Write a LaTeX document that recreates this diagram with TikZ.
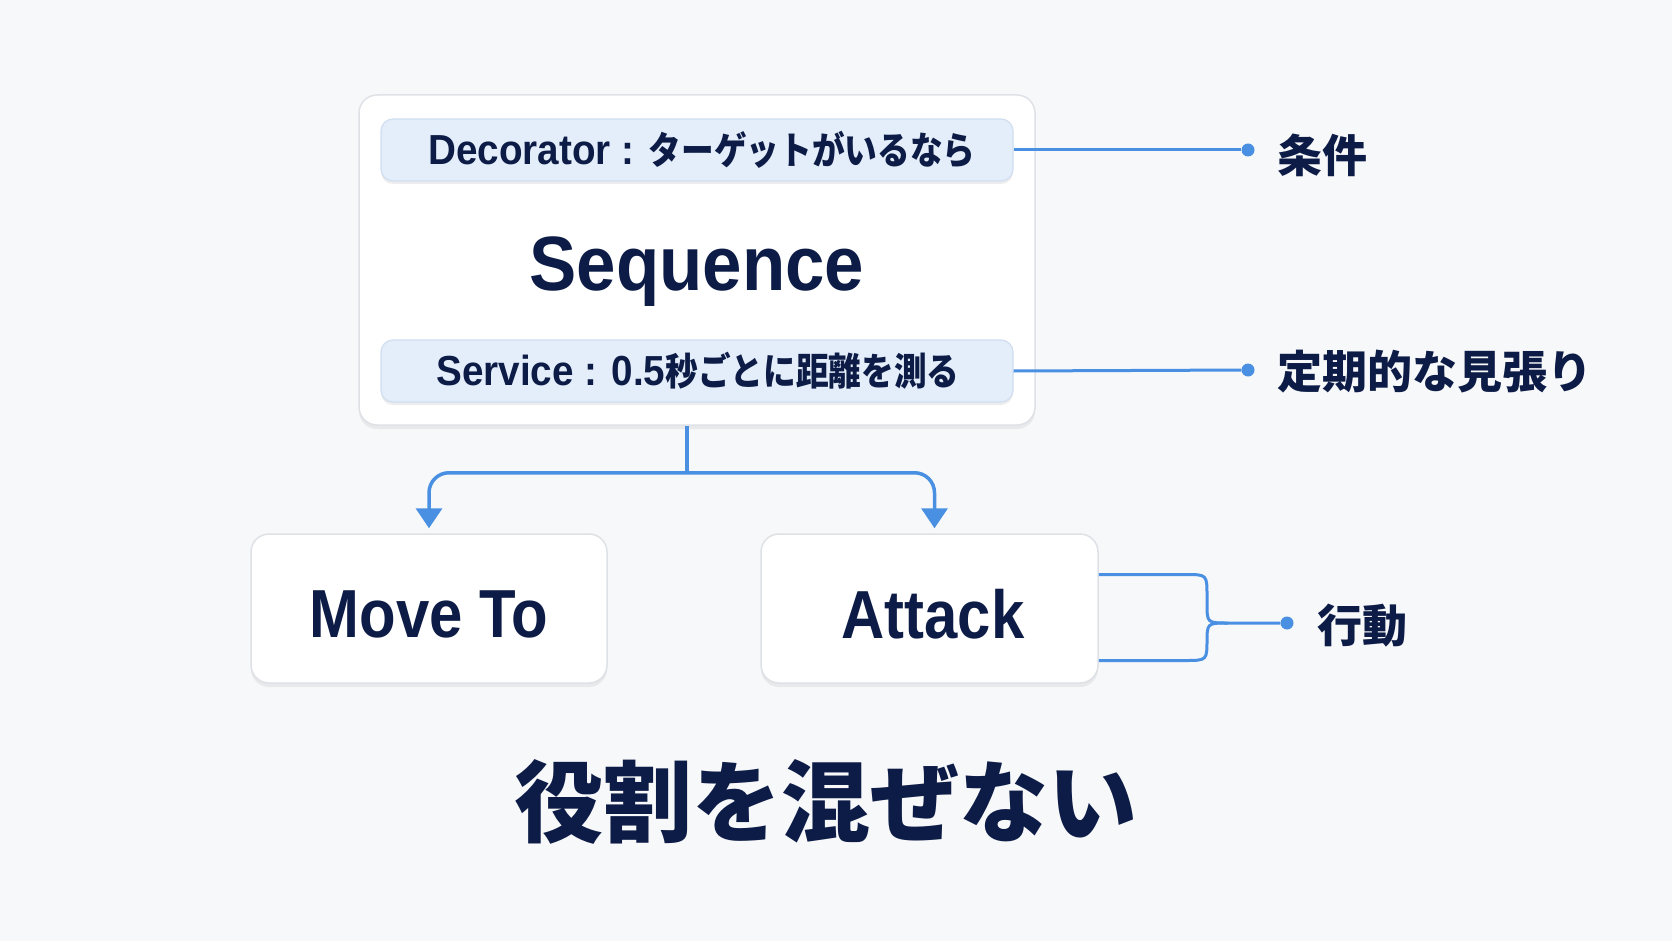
\documentclass[tikz,border=0pt]{standalone}
\usepackage{fontspec}
\setmainfont{Liberation Sans}
\newfontfamily\cond{Liberation Sans}[FakeStretch=0.92]
\newfontfamily\condb{Liberation Sans}[FakeStretch=0.88]
\newfontfamily\jp{Noto Sans CJK JP}
\newfontfamily\jpc{Noto Sans CJK JP}[FakeStretch=0.86]
\usetikzlibrary{shadows,arrows.meta,calc}
\definecolor{bg}{RGB}{247,248,250}
\definecolor{navy}{RGB}{13,28,70}
\definecolor{lnblue}{RGB}{74,144,226}
\definecolor{barfill}{RGB}{228,238,251}
\definecolor{barline}{RGB}{208,222,240}
\definecolor{boxline}{RGB}{222,225,230}
\begin{document}
\begin{tikzpicture}[x=1pt,y=-1pt,
 card/.style={draw=boxline, line width=1.5pt, fill=white, rounded corners=18pt,
   drop shadow={opacity=0.12,shadow xshift=0pt,shadow yshift=-4pt}},
 bar/.style={draw=barline, line width=1.2pt, fill=barfill, rounded corners=12pt,
   drop shadow={opacity=0.14,shadow xshift=0pt,shadow yshift=-3pt}},
 conn/.style={draw=lnblue, line width=3.5pt},
 tip/.style={-{Triangle[width=26pt,length=20pt]}},
 dot/.style={circle, fill=lnblue, inner sep=0pt, minimum size=13pt},
 lbl/.style={text=navy, font=\jp\bfseries\fontsize{45}{48}\selectfont, anchor=west, inner sep=0pt},
 bartext/.style={text=navy, font=\cond\bfseries\fontsize{42}{46}\selectfont, inner sep=0pt},
 bigtext/.style={text=navy, font=\condb\bfseries\fontsize{68}{72}\selectfont, inner sep=0pt},
 ]
\useasboundingbox[fill=bg] (0,0) rectangle (1672,941);

% Sequence card
\node[card, minimum width=676pt, minimum height=330pt] (seq) at (697,260) {};
\node[bar, minimum width=632pt, minimum height=62pt] (dec) at (697,150) {};
\node[bar, minimum width=632pt, minimum height=62pt] (srv) at (697,371) {};
\node[bartext] (dectxt) at (702,150) {Decorator : {\jpc\fontsize{38}{42}\selectfont ターゲットがいるなら}};
\node[bartext] (srvtxt) at (698,371) {Service : 0.5{\jpc\fontsize{38}{42}\selectfont 秒ごとに距離を測る}};
\node[text=navy, font=\cond\bfseries\fontsize{77}{82}\selectfont, inner sep=0pt] (seqlbl) at (697,272) {Sequence};

% right labels
\node[dot] (d1) at (1248,150) {};
\node[dot] (d2) at (1248,370) {};
\node[lbl] (l1) at (1277,155) {条件};
\node[lbl] (l2) at (1277,372) {定期的な見張り};
\draw[conn, line width=3pt] (dec.east) -- (d1);
\draw[conn, line width=3pt] (srv.east) -- (d2);

% children
\node[card, minimum width=356pt, minimum height=149pt] (move) at (429,608.5) {};
\node[card, minimum width=337pt, minimum height=149pt] (attack) at (929.5,608.5) {};
\node[bigtext] (movelbl) at (429,614) {Move To};
\node[bigtext] (attacklbl) at (933,614) {Attack};

\coordinate (j) at ($(seq.south)+(-10,47)$);
\draw[conn] ([xshift=-10pt]seq.south) -- (j);
\draw[conn, rounded corners=20pt, tip] (j) -| ([yshift=5pt]move.north);
\draw[conn, rounded corners=20pt, tip] (j) -| ([xshift=5pt,yshift=5pt]attack.north);

% bracket to action
\coordinate (at1) at ($(attack.east)+(0,-34)$);
\coordinate (at2) at ($(attack.east)+(0,52)$);
\node[dot] (d3) at (1287,623) {};
\node[lbl] (l3) at (1317,626) {行動};
\draw[conn, line width=3pt] (at1) -- (1185,574.5) .. controls (1207,574.5) .. (1207,596) -- (1207,603)
  .. controls (1207,623) .. (1228,623) -- (d3);
\draw[conn, line width=3pt] (at2) -- (1185,660.5) .. controls (1207,660.5) .. (1207,639) -- (1207,643)
  .. controls (1207,623) .. (1228,623);

% title
\node[text=navy, font=\jp\bfseries\fontsize{89}{94}\selectfont, inner sep=0pt] (title) at (826,802) {役割を混ぜない};
\end{tikzpicture}
\end{document}
